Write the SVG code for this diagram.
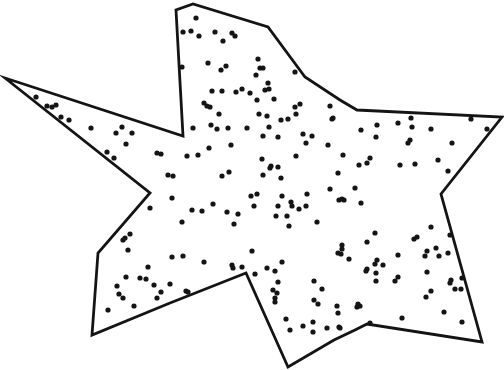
<svg xmlns="http://www.w3.org/2000/svg" xmlns:xlink="http://www.w3.org/1999/xlink" width="504" height="370" viewBox="0 0 504 370">
<style>
.outline{fill:none;stroke:#141414;stroke-width:2.8;stroke-linejoin:miter;stroke-miterlimit:20}
.dots use{fill:#141414}
</style>
<defs><circle id="d" r="2.6"/></defs>
<rect width="504" height="370" fill="#ffffff"/>
<polygon class="outline" points="5,78 183,136 176,10 193,4 268,27 305,77 340,100 357,110 502,117 441,194 482,342 367,324 355,330 334,340 288,367 246,273 170,303 92,335 98,253 150,193"/>
<g class="dots">
<use href="#d" x="36" y="97"/><use href="#d" x="47" y="106"/><use href="#d" x="52" y="107"/><use href="#d" x="56" y="105"/><use href="#d" x="61" y="117"/><use href="#d" x="69" y="120"/><use href="#d" x="91" y="128"/><use href="#d" x="122" y="127"/><use href="#d" x="116" y="133"/><use href="#d" x="132" y="133"/><use href="#d" x="126" y="144"/><use href="#d" x="107" y="152"/><use href="#d" x="114" y="158"/><use href="#d" x="157" y="153"/><use href="#d" x="161" y="154"/><use href="#d" x="168" y="175"/>
<use href="#d" x="196" y="18"/><use href="#d" x="183" y="32"/><use href="#d" x="191" y="31"/><use href="#d" x="199" y="36"/><use href="#d" x="215" y="32"/><use href="#d" x="232" y="33"/><use href="#d" x="235" y="36"/><use href="#d" x="223" y="41"/><use href="#d" x="258" y="59"/><use href="#d" x="208" y="63"/><use href="#d" x="226" y="66"/><use href="#d" x="221" y="70"/><use href="#d" x="182" y="67"/><use href="#d" x="260" y="68"/><use href="#d" x="263" y="68"/><use href="#d" x="256" y="75"/><use href="#d" x="268" y="83"/><use href="#d" x="295" y="72"/><use href="#d" x="212" y="91"/><use href="#d" x="222" y="91"/><use href="#d" x="236" y="92"/><use href="#d" x="242" y="89"/><use href="#d" x="250" y="93"/><use href="#d" x="265" y="90"/><use href="#d" x="269" y="89"/><use href="#d" x="257" y="100"/><use href="#d" x="274" y="99"/><use href="#d" x="204" y="103"/><use href="#d" x="207" y="106"/><use href="#d" x="210" y="107"/><use href="#d" x="219" y="114"/><use href="#d" x="259" y="114"/><use href="#d" x="267" y="116"/><use href="#d" x="295" y="107"/><use href="#d" x="300" y="104"/><use href="#d" x="296" y="114"/><use href="#d" x="281" y="120"/><use href="#d" x="288" y="119"/><use href="#d" x="330" y="106"/><use href="#d" x="332" y="119"/><use href="#d" x="211" y="125"/><use href="#d" x="217" y="129"/><use href="#d" x="228" y="128"/><use href="#d" x="247" y="128"/><use href="#d" x="269" y="127"/><use href="#d" x="193" y="128"/><use href="#d" x="263" y="136"/><use href="#d" x="278" y="137"/><use href="#d" x="303" y="134"/><use href="#d" x="312" y="136"/><use href="#d" x="306" y="143"/><use href="#d" x="328" y="145"/><use href="#d" x="231" y="145"/><use href="#d" x="209" y="148"/><use href="#d" x="187" y="156"/><use href="#d" x="198" y="155"/><use href="#d" x="262" y="159"/><use href="#d" x="296" y="156"/><use href="#d" x="271" y="166"/><use href="#d" x="270" y="168"/><use href="#d" x="278" y="167"/><use href="#d" x="281" y="178"/><use href="#d" x="229" y="172"/><use href="#d" x="222" y="176"/><use href="#d" x="263" y="175"/><use href="#d" x="173" y="176"/><use href="#d" x="338" y="173"/>
<use href="#d" x="333" y="118"/><use href="#d" x="361" y="130"/><use href="#d" x="377" y="125"/><use href="#d" x="398" y="123"/><use href="#d" x="411" y="118"/><use href="#d" x="412" y="127"/><use href="#d" x="431" y="129"/><use href="#d" x="376" y="137"/><use href="#d" x="410" y="140"/><use href="#d" x="408" y="143"/><use href="#d" x="471" y="119"/><use href="#d" x="487" y="129"/><use href="#d" x="452" y="143"/><use href="#d" x="343" y="155"/><use href="#d" x="370" y="158"/><use href="#d" x="367" y="163"/><use href="#d" x="359" y="165"/><use href="#d" x="400" y="165"/><use href="#d" x="415" y="164"/><use href="#d" x="438" y="160"/><use href="#d" x="448" y="171"/>
<use href="#d" x="150" y="208"/><use href="#d" x="130" y="234"/><use href="#d" x="125" y="238"/><use href="#d" x="123" y="240"/><use href="#d" x="128" y="250"/><use href="#d" x="148" y="267"/><use href="#d" x="126" y="277"/><use href="#d" x="140" y="278"/><use href="#d" x="146" y="279"/><use href="#d" x="117" y="286"/><use href="#d" x="154" y="285"/><use href="#d" x="170" y="284"/><use href="#d" x="161" y="292"/><use href="#d" x="119" y="294"/><use href="#d" x="123" y="298"/><use href="#d" x="157" y="298"/><use href="#d" x="108" y="310"/><use href="#d" x="134" y="306"/>
<use href="#d" x="172" y="198"/><use href="#d" x="251" y="196"/><use href="#d" x="257" y="194"/><use href="#d" x="282" y="196"/><use href="#d" x="307" y="194"/><use href="#d" x="330" y="189"/><use href="#d" x="192" y="210"/><use href="#d" x="202" y="211"/><use href="#d" x="213" y="204"/><use href="#d" x="254" y="206"/><use href="#d" x="227" y="212"/><use href="#d" x="238" y="214"/><use href="#d" x="234" y="224"/><use href="#d" x="182" y="222"/><use href="#d" x="278" y="206"/><use href="#d" x="291" y="202"/><use href="#d" x="292" y="206"/><use href="#d" x="299" y="209"/><use href="#d" x="306" y="206"/><use href="#d" x="276" y="216"/><use href="#d" x="287" y="216"/><use href="#d" x="289" y="226"/><use href="#d" x="317" y="222"/><use href="#d" x="339" y="200"/><use href="#d" x="252" y="251"/><use href="#d" x="172" y="257"/><use href="#d" x="183" y="256"/><use href="#d" x="204" y="262"/><use href="#d" x="232" y="265"/><use href="#d" x="233" y="268"/><use href="#d" x="242" y="267"/><use href="#d" x="255" y="274"/><use href="#d" x="267" y="268"/><use href="#d" x="275" y="271"/><use href="#d" x="282" y="262"/><use href="#d" x="278" y="282"/><use href="#d" x="273" y="290"/><use href="#d" x="277" y="293"/><use href="#d" x="275" y="298"/><use href="#d" x="275" y="302"/><use href="#d" x="314" y="281"/><use href="#d" x="322" y="289"/><use href="#d" x="314" y="300"/><use href="#d" x="318" y="304"/><use href="#d" x="186" y="291"/><use href="#d" x="188" y="292"/><use href="#d" x="286" y="319"/><use href="#d" x="290" y="330"/><use href="#d" x="303" y="326"/><use href="#d" x="313" y="322"/><use href="#d" x="313" y="332"/><use href="#d" x="327" y="328"/><use href="#d" x="339" y="327"/><use href="#d" x="338" y="253"/>
<use href="#d" x="355" y="188"/><use href="#d" x="342" y="199"/><use href="#d" x="344" y="200"/><use href="#d" x="361" y="203"/><use href="#d" x="375" y="233"/><use href="#d" x="367" y="242"/><use href="#d" x="342" y="245"/><use href="#d" x="342" y="249"/><use href="#d" x="341" y="254"/><use href="#d" x="349" y="259"/><use href="#d" x="431" y="227"/><use href="#d" x="450" y="235"/><use href="#d" x="414" y="239"/><use href="#d" x="417" y="237"/><use href="#d" x="436" y="248"/><use href="#d" x="427" y="251"/><use href="#d" x="425" y="256"/><use href="#d" x="439" y="256"/><use href="#d" x="448" y="253"/><use href="#d" x="398" y="255"/><use href="#d" x="377" y="260"/><use href="#d" x="375" y="264"/><use href="#d" x="383" y="265"/><use href="#d" x="367" y="269"/><use href="#d" x="366" y="271"/><use href="#d" x="376" y="273"/><use href="#d" x="376" y="281"/><use href="#d" x="398" y="277"/><use href="#d" x="395" y="281"/><use href="#d" x="427" y="272"/><use href="#d" x="451" y="280"/><use href="#d" x="450" y="283"/><use href="#d" x="462" y="278"/><use href="#d" x="455" y="289"/><use href="#d" x="461" y="289"/><use href="#d" x="431" y="291"/><use href="#d" x="426" y="297"/><use href="#d" x="337" y="306"/><use href="#d" x="338" y="313"/><use href="#d" x="358" y="304"/><use href="#d" x="357" y="307"/><use href="#d" x="360" y="306"/><use href="#d" x="340" y="328"/><use href="#d" x="370" y="323"/><use href="#d" x="402" y="318"/><use href="#d" x="444" y="312"/><use href="#d" x="462" y="322"/>
</g>
</svg>
